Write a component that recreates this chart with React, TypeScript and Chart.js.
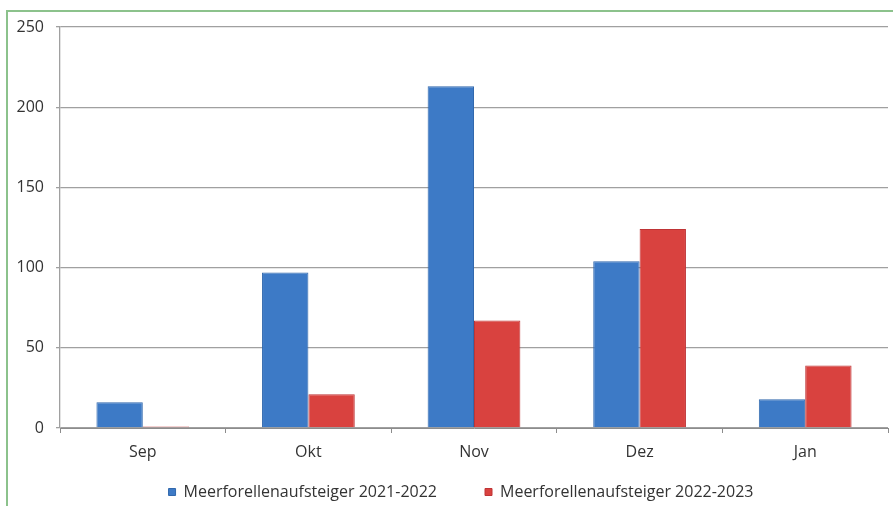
import React, { useEffect, useRef } from "react";
import { Chart, registerables } from "chart.js";

Chart.register(...registerables);

const categories = ["Sep", "Okt", "Nov", "Dez", "Jan"];
const series2122 = [16, 97, 213, 104, 18];
const series2223 = [1, 21, 67, 124, 39];
const seriesLabels = ["Meerforellenaufsteiger 2021-2022", "Meerforellenaufsteiger 2022-2023"];
const yMin = 0;
const yMax = 250;
const yStep = 50;

const FONT = "'Open Sans', 'Liberation Sans', sans-serif";
const TEXT = "#333333";

export default function App() {
  const ref = useRef<HTMLCanvasElement | null>(null);

  useEffect(() => {
    if (!ref.current) return;
    const shiftLegend = {
      id: "shiftLegend",
      afterLayout(chart: any) {
        const lg = chart.legend;
        if (lg) {
          lg.left += 13;
          lg.right += 13;
        }
      },
    };
    const chart = new Chart(ref.current, {
      type: "bar",
      data: {
        labels: categories,
        datasets: [
          {
            label: seriesLabels[0],
            data: series2122,
            backgroundColor: "#3d7ac6",
            borderColor: "#3168ad",
            borderWidth: 1,
            categoryPercentage: 0.56,
            barPercentage: 1,
          },
          {
            label: seriesLabels[1],
            data: series2223,
            backgroundColor: "#d9423f",
            borderColor: "#bf3436",
            borderWidth: 1,
            categoryPercentage: 0.56,
            barPercentage: 1,
          },
        ],
      },
      options: {
        responsive: false,
        animation: false,
        layout: { padding: { left: 8, right: 5, top: 27, bottom: -4 } },
        plugins: {
          tooltip: { enabled: false },
          legend: {
            position: "bottom",
            labels: {
              boxWidth: 7,
              boxHeight: 7,
              padding: 48,
              color: TEXT,
              font: { family: FONT, size: 16 },
            },
          },
        },
        scales: {
          x: {
            offset: true,
            grid: {
              display: true,
              drawOnChartArea: false,
              drawTicks: true,
              tickLength: 5,
              color: "#8c8c8c",
              offset: true,
            },
            border: { display: true, color: "#8c8c8c", width: 1 },
            ticks: {
              color: TEXT,
              font: { family: FONT, size: 16 },
              padding: 10,
              autoSkip: false,
              maxRotation: 0,
              minRotation: 0,
            },
            afterFit(scale: any) {
              scale.height = 8;
              scale._computeLabelArea = () => undefined;
            },
          },
          y: {
            min: yMin,
            max: yMax,
            ticks: {
              stepSize: yStep,
              color: TEXT,
              font: { family: FONT, size: 16 },
              padding: 12,
            },
            grid: { color: "#a0a0a0", lineWidth: 1.3, tickLength: 4, drawTicks: true },
            border: { display: true, color: "#a0a0a0", width: 1.3 },
            afterFit(scale: any) {
              scale.width = 52;
            },
          },
        },
      },
      plugins: [shiftLegend],
    });
    return () => chart.destroy();
  }, []);

  return (
    <div
      style={{
        position: "fixed",
        left: 0,
        top: 0,
        width: 893,
        height: 506,
        overflow: "hidden",
        background: "#ffffff",
      }}
    >
      <canvas
        ref={ref}
        width={893}
        height={506}
        style={{ position: "absolute", left: 0, top: 0, display: "block" }}
      />
      <div
        style={{
          position: "absolute",
          left: 6,
          top: 10,
          width: 900,
          height: 600,
          borderTop: "2px solid #8cc28c",
          borderLeft: "2px solid #8cc28c",
          pointerEvents: "none",
        }}
      />
    </div>
  );
}
